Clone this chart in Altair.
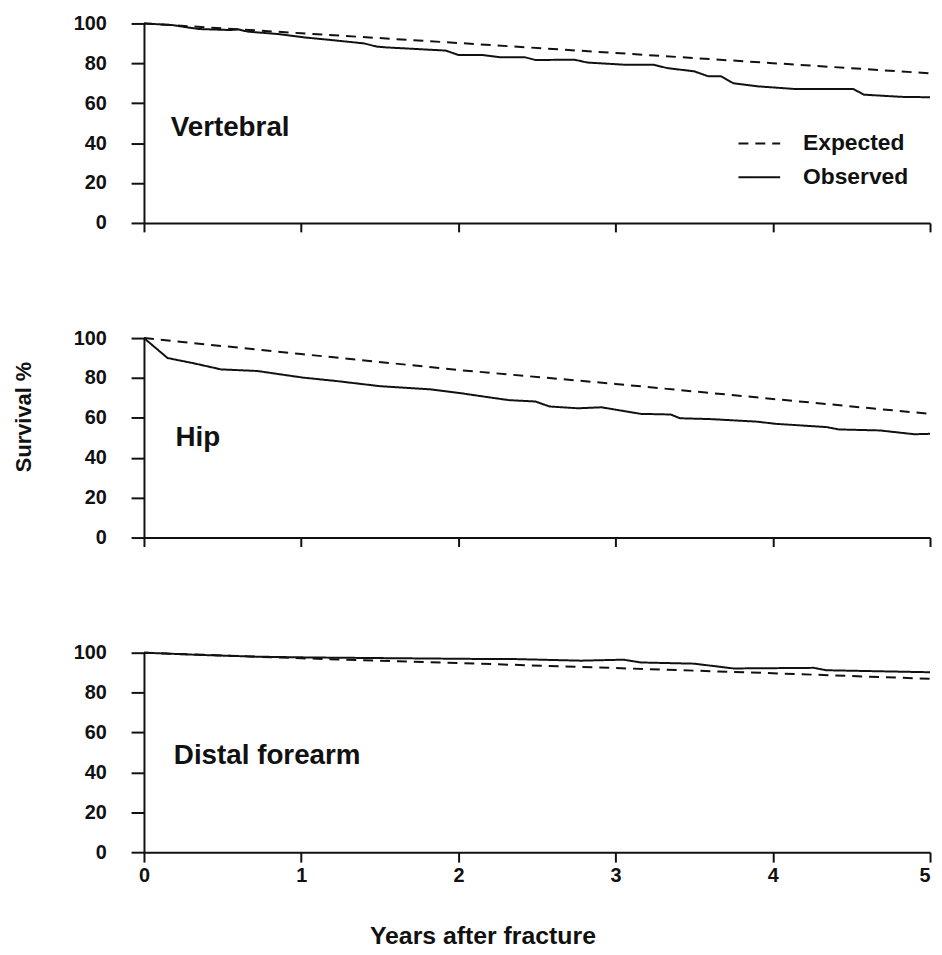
import altair as alt
import pandas as pd

FONT = "Liberation Sans"
INK = "#111111"

# ---- data ----
panels = ["Vertebral", "Hip", "Distal forearm"]
series_names = ["Expected", "Observed"]

vert_obs_years = [0, 0.18, 0.28, 0.35, 0.55, 0.6, 0.66, 0.85, 1.02, 1.19, 1.4, 1.48, 1.54,
                  1.92, 2.0, 2.15, 2.26, 2.42, 2.49, 2.74, 2.82, 3.06, 3.24, 3.33, 3.5,
                  3.59, 3.67, 3.75, 3.9, 4.13, 4.51, 4.58, 4.82, 5.0]
vert_obs = [100, 99.2, 98, 97.2, 96.7, 97, 95.9, 94.7, 93, 91.7, 90, 88.4, 88,
            86.4, 84.2, 84.2, 83.1, 83.1, 81.7, 81.8, 80.4, 79.3, 79.3, 77.6, 76,
            73.5, 73.5, 70, 68.5, 67.2, 67.2, 64.3, 63.2, 63]
vert_exp_years = [0, 1, 2, 3, 4, 5]
vert_exp = [100, 95.1, 90.2, 85.2, 80.1, 75]

hip_obs_years = [0, 0.15, 0.32, 0.49, 0.72, 1.01, 1.22, 1.5, 1.82, 2.03, 2.23, 2.32, 2.49,
                 2.58, 2.76, 2.91, 3.16, 3.35, 3.41, 3.6, 3.9, 4.02, 4.34, 4.42, 4.68, 4.9, 5.0]
hip_obs = [100, 90, 87.3, 84.3, 83.5, 80.2, 78.5, 75.9, 74.3, 72.2, 69.9, 68.9, 68.2,
           65.7, 64.8, 65.3, 62.0, 61.7, 59.8, 59.4, 58.1, 57.0, 55.4, 54.2, 53.7, 51.8, 52]
hip_exp_years = [0, 1, 2, 3, 4, 5]
hip_exp = [100, 92, 84, 77, 69.5, 62]

fore_obs_years = [0, 0.35, 0.72, 1.06, 1.5, 2.23, 2.36, 2.78, 3.05, 3.16, 3.5, 3.75,
                  4.26, 4.34, 5.0]
fore_obs = [100, 98.9, 98.0, 97.6, 97.3, 96.8, 96.8, 96.0, 96.5, 95.1, 94.5, 92.1,
            92.4, 91.2, 90.2]
fore_exp_years = [0, 1, 2, 3, 4, 5]
fore_exp = [100, 97.2, 94.8, 92.3, 89.7, 86.9]

label_years = [0.17, 0.2, 0.19]
label_values = [47.8, 50, 48]

x_ticks = [0, 1, 2, 3, 4, 5]
y_ticks = [0, 20, 40, 60, 80, 100]

W, H = 792, 201


def panel(idx, obs_x, obs_y, exp_x, exp_y):
    rows = []
    for x, y in zip(exp_x, exp_y):
        rows.append({"year": x, "value": y, "series": series_names[0]})
    for x, y in zip(obs_x, obs_y):
        rows.append({"year": x, "value": y, "series": series_names[1]})
    df = pd.DataFrame(rows)

    bottom = idx == 2
    if bottom:
        xaxis = alt.Axis(values=x_ticks, format="d", tickSize=10, labelPadding=4,
                         labelAlign={"condition": {"test": "datum.value === 5", "value": "right"},
                                     "value": "center"},
                         title="Years after fracture", titleFontSize=25, titleX=341,
                         titleY=92, titleBaseline="alphabetic", titleAnchor="start",
                         titleAlign="center")
    else:
        xaxis = alt.Axis(values=x_ticks, labels=False, tickSize=9, title=None)

    if idx == 1:
        yaxis = alt.Axis(values=y_ticks, tickSize=13, labelPadding=25, title="Survival %",
                         titleFontSize=22, titleX=-109, titleY=79)
    else:
        yaxis = alt.Axis(values=y_ticks, tickSize=13, labelPadding=25, title=None)

    if idx == 0:
        leg = alt.Legend(title=None, orient="none", legendX=598, legendY=99,
                         symbolType="stroke", symbolSize=1764, symbolStrokeWidth=2,
                         symbolStrokeColor=INK, labelFont=FONT, labelFontSize=23,
                         labelFontWeight="bold", labelColor=INK, labelOffset=22,
                         rowPadding=-13, padding=0, offset=0)
    else:
        leg = None

    lines = alt.Chart(df).mark_line(color=INK, strokeWidth=2).encode(
        x=alt.X("year:Q", scale=alt.Scale(domain=[0, 5], nice=False), axis=xaxis),
        y=alt.Y("value:Q", scale=alt.Scale(domain=[0, 100], nice=False), axis=yaxis),
        strokeDash=alt.StrokeDash("series:N",
                                  scale=alt.Scale(domain=series_names, range=[[10, 7], [1, 0]]),
                                  legend=leg),
        detail="series:N",
    )
    lab = pd.DataFrame({"year": [label_years[idx]], "value": [label_values[idx]],
                        "name": [panels[idx]]})
    text = alt.Chart(lab).mark_text(align="left", baseline="middle", fontSize=28,
                                    fontWeight="bold", font=FONT, color=INK).encode(
        x="year:Q", y="value:Q", text="name:N")
    return alt.layer(lines, text).properties(width=W, height=H)


chart = alt.vconcat(
    panel(0, vert_obs_years, vert_obs, vert_exp_years, vert_exp),
    panel(1, hip_obs_years, hip_obs, hip_exp_years, hip_exp),
    panel(2, fore_obs_years, fore_obs, fore_exp_years, fore_exp),
    spacing=96,
).resolve_scale(strokeDash="independent").resolve_legend(strokeDash="independent").configure_axis(
    domainColor=INK, domainWidth=2, tickColor=INK, tickWidth=2, grid=False,
    labelFont=FONT, labelFontSize=20, labelFontWeight="bold", labelColor=INK,
    titleFont=FONT, titleFontWeight="bold", titleColor=INK,
).configure_view(stroke=None).properties(
    padding={"left": 5, "top": 2, "right": 0, "bottom": 0}, background="white"
)

chart.save("out.html", embed_options={"renderer": "svg", "actions": False})
